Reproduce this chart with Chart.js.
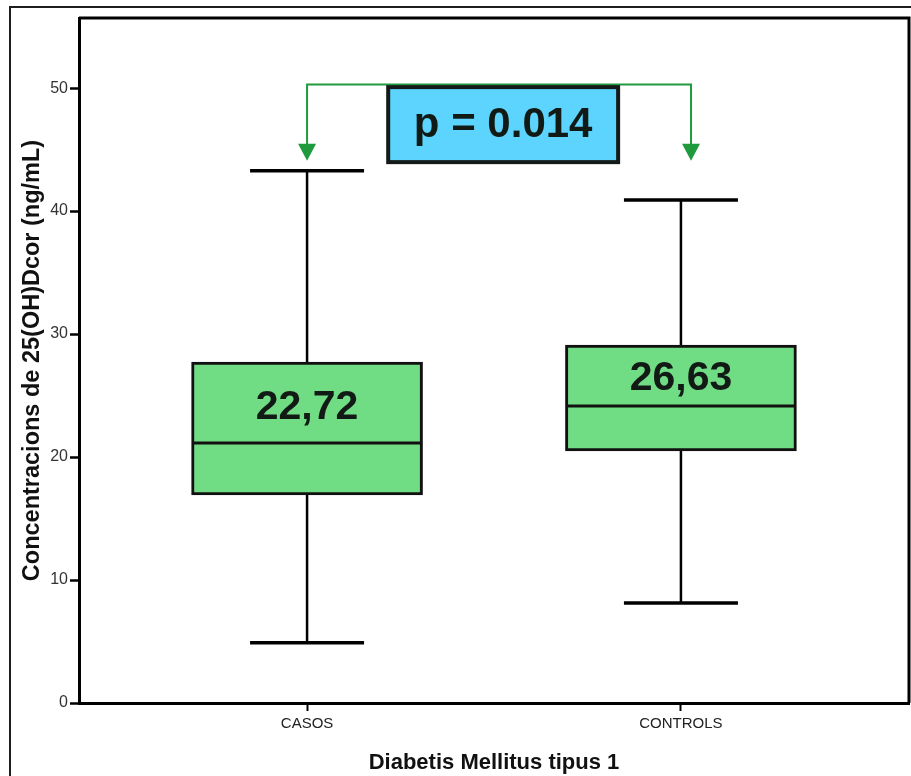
<!DOCTYPE html>
<html>
<head>
<meta charset="utf-8">
<script src="https://cdn.jsdelivr.net/npm/chart.js@4.4.1/dist/chart.umd.min.js"></script>
<style>
  html, body { margin: 0; padding: 0; background: #fff; }
  canvas { display: block; }
</style>
</head>
<body>
<canvas id="boxChart" width="911" height="776"></canvas>
<script>
// grups i estadistics de la caixa (ng/mL)
var categories = ['CASOS', 'CONTROLS'];
var mins    = [4.90, 8.13];
var q1s     = [16.91, 20.50];
var medians = [21.14, 24.15];
var q3s     = [27.72, 29.10];
var maxs    = [43.28, 40.90];
var means   = [22.72, 26.63];
var yTicks  = [0, 10, 20, 30, 40, 50];
var pValue  = 'p = 0.014';

// posicions de les etiquetes (unitats de l'eix)
var meanLabelY = [24.0, 26.4];
var bracket = { y: 50.3, tipY: 44.1, xs: [1, 2.027] };
var pBox = { x0: 1.217, x1: 1.832, y0: 50.08, y1: 43.98 };

var narrow = "'Liberation Sans Narrow', 'Liberation Sans', Arial, sans-serif";
var sans = "'Liberation Sans', Arial, sans-serif";

var boxData = categories.map(function (c, i) { return { x: i + 1, y: [q1s[i], q3s[i]] }; });
var whiskerData = [];
categories.forEach(function (c, i) {
    whiskerData.push({ x: i + 1, y: mins[i] });
    whiskerData.push({ x: i + 1, y: maxs[i] });
    whiskerData.push({ x: i + 1.5, y: null });
});
var capData = [];
categories.forEach(function (c, i) {
    capData.push({ x: i + 1, y: mins[i] });
    capData.push({ x: i + 1, y: maxs[i] });
});
var medianData = categories.map(function (c, i) { return { x: i + 1, y: medians[i] }; });

var framePlugin = {
    id: 'frames',
    beforeDraw: function (chart) {
        var ctx = chart.ctx;
        ctx.save();
        ctx.strokeStyle = '#1e1e1e';
        ctx.lineWidth = 2;
        ctx.strokeRect(10, 7, 1000, 1000);
        ctx.restore();
    },
    afterDraw: function (chart) {
        var ctx = chart.ctx, a = chart.chartArea;
        var xs = chart.scales.x, ys = chart.scales.y;
        ctx.save();
        ctx.strokeStyle = '#000';
        ctx.lineWidth = 3;
        ctx.beginPath();
        ctx.moveTo(a.left, a.top);
        ctx.lineTo(a.right, a.top);
        ctx.lineTo(a.right, a.bottom);
        ctx.stroke();

        // mitjanes dins les caixes
        ctx.fillStyle = '#111a15';
        ctx.font = 'bold 41px ' + sans;
        ctx.textAlign = 'center';
        ctx.textBaseline = 'middle';
        means.forEach(function (m, i) {
            ctx.fillText(m.toFixed(2).replace('.', ','), xs.getPixelForValue(i + 1), ys.getPixelForValue(meanLabelY[i]));
        });

        // claudator amb fletxes
        var by = ys.getPixelForValue(bracket.y);
        var ty = ys.getPixelForValue(bracket.tipY);
        var bx0 = xs.getPixelForValue(bracket.xs[0]);
        var bx1 = xs.getPixelForValue(bracket.xs[1]);
        ctx.strokeStyle = '#1f9a3c';
        ctx.fillStyle = '#1f9a3c';
        ctx.lineWidth = 2;
        ctx.beginPath();
        ctx.moveTo(bx0, ty - 16);
        ctx.lineTo(bx0, by);
        ctx.lineTo(bx1, by);
        ctx.lineTo(bx1, ty - 16);
        ctx.stroke();
        [bx0, bx1].forEach(function (x) {
            ctx.beginPath();
            ctx.moveTo(x - 9, ty - 17);
            ctx.lineTo(x + 9, ty - 17);
            ctx.lineTo(x, ty);
            ctx.closePath();
            ctx.fill();
        });

        // caixa del valor p
        var px0 = xs.getPixelForValue(pBox.x0), px1 = xs.getPixelForValue(pBox.x1);
        var py0 = ys.getPixelForValue(pBox.y0), py1 = ys.getPixelForValue(pBox.y1);
        ctx.fillStyle = '#5cd4fe';
        ctx.fillRect(px0, py0, px1 - px0, py1 - py0);
        ctx.strokeStyle = '#141a17';
        ctx.lineWidth = 4;
        ctx.strokeRect(px0, py0, px1 - px0, py1 - py0);
        ctx.fillStyle = '#111a15';
        ctx.font = 'bold 42px ' + sans;
        ctx.fillText(pValue, (px0 + px1) / 2, (py0 + py1) / 2 + 1);
        ctx.restore();
    }
};

var ctx = document.getElementById('boxChart').getContext('2d');

new Chart(ctx, {
    type: 'bar',
    data: {
        datasets: [{
            type: 'line',
            label: 'bigotis',
            data: whiskerData,
            borderColor: '#000',
            borderWidth: 2.5,
            pointRadius: 0,
            spanGaps: false,
            order: 3
        }, {
            type: 'bar',
            label: 'caixa',
            data: boxData,
            backgroundColor: '#70dd85',
            borderColor: '#111',
            borderWidth: 3,
            borderSkipped: false,
            barThickness: 231,
            order: 2
        }, {
            type: 'scatter',
            label: 'extrems',
            data: capData,
            pointStyle: 'line',
            pointRadius: 57,
            pointBorderWidth: 3.5,
            pointBorderColor: '#000',
            order: 1
        }, {
            type: 'scatter',
            label: 'mediana',
            data: medianData,
            pointStyle: 'line',
            pointRadius: 115,
            pointBorderWidth: 3,
            pointBorderColor: '#111',
            order: 0
        }]
    },
    options: {
        responsive: false,
        animation: false,
        events: [],
        layout: { autoPadding: false, padding: { top: 18, right: 2, left: 0, bottom: 0 } },
        plugins: {
            legend: { display: false },
            tooltip: { enabled: false }
        },
        scales: {
            x: {
                type: 'linear',
                min: 0.39,
                max: 2.61,
                offset: false,
                afterFit: function (scale) { scale.height = 73; },
                afterBuildTicks: function (scale) {
                    scale.ticks = categories.map(function (c, i) { return { value: i + 1 }; });
                },
                ticks: {
                    color: '#222',
                    padding: 4,
                    font: { family: narrow, size: 15 },
                    callback: function (v) { return categories[v - 1]; }
                },
                grid: { display: true, offset: false, drawOnChartArea: false, drawTicks: true, tickLength: 8, tickWidth: 2, color: '#000' },
                border: { display: true, color: '#000', width: 3 },
                title: {
                    display: true,
                    text: 'Diabetis Mellitus tipus 1',
                    color: '#111',
                    font: { family: sans, size: 22, weight: 'bold' },
                    padding: { top: 0, bottom: 0 }
                }
            },
            y: {
                type: 'linear',
                min: 0,
                max: 55.7,
                afterFit: function (scale) { scale.width = 79; },
                afterBuildTicks: function (scale) {
                    scale.ticks = yTicks.map(function (v) { return { value: v }; });
                },
                ticks: {
                    color: '#333',
                    padding: 2,
                    font: { family: narrow, size: 16 }
                },
                grid: { display: true, drawOnChartArea: false, drawTicks: true, tickLength: 9, tickWidth: 2.5, color: '#000' },
                border: { display: true, color: '#000', width: 3 },
                title: {
                    display: true,
                    text: 'Concentracions de 25(OH)Dcor (ng/mL)',
                    color: '#111',
                    font: { family: sans, size: 23.5, weight: 'bold' },
                    padding: { top: 18, bottom: 0 }
                }
            }
        }
    },
    plugins: [framePlugin]
});
</script>
</body>
</html>
